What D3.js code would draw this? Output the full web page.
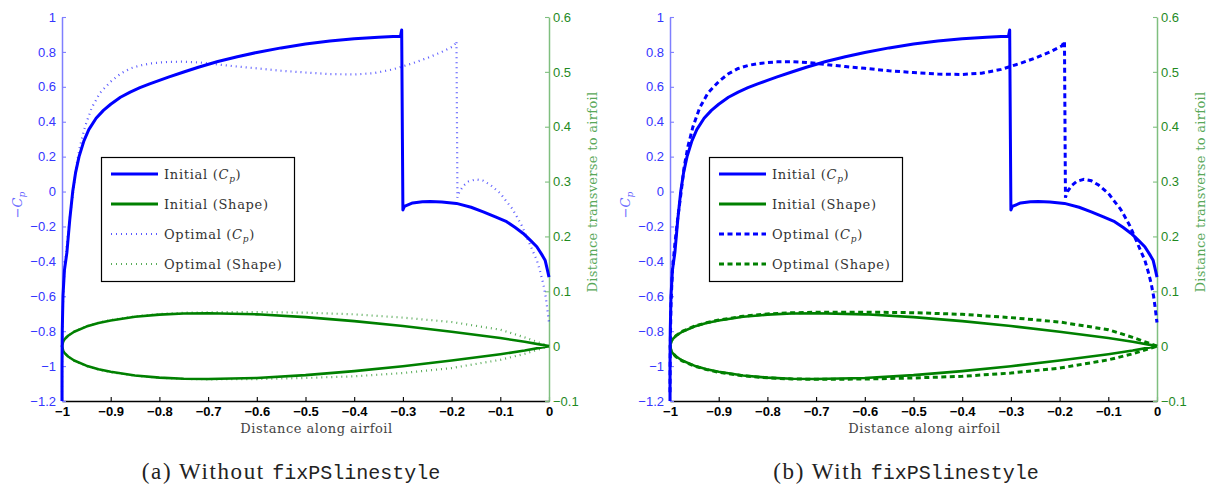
<!DOCTYPE html>
<html><head><meta charset="utf-8">
<script src="https://cdn.jsdelivr.net/npm/d3@7"></script>
<style>body{margin:0;background:#fff}svg{display:block}</style>
</head><body><svg id="c" width="1208" height="487"></svg>
<script>
// ---- data ----
const cpInitX = [-1, -1, -0.9995, -0.998, -0.995, -0.99, -0.984, -0.978, -0.972, -0.965, -0.955, -0.945, -0.93, -0.915, -0.90, -0.88, -0.86, -0.84, -0.82, -0.80, -0.78, -0.75, -0.72, -0.68, -0.64, -0.60, -0.55, -0.50, -0.45, -0.40, -0.35, -0.32, -0.305, -0.3025, -0.301, -0.300, -0.297, -0.28, -0.26, -0.244, -0.22, -0.19, -0.16, -0.135, -0.11, -0.087, -0.07, -0.053, -0.038, -0.025, -0.015, -0.008, -0.004, 0];
const cpInitY = [-1.2, -1.0, -0.8, -0.6, -0.45, -0.35, -0.16, 0.0, 0.11, 0.20, 0.29, 0.355, 0.42, 0.465, 0.50, 0.54, 0.57, 0.595, 0.617, 0.637, 0.657, 0.685, 0.712, 0.745, 0.772, 0.797, 0.823, 0.845, 0.862, 0.875, 0.884, 0.888, 0.889, 0.925, 0.30, -0.106, -0.085, -0.065, -0.058, -0.057, -0.06, -0.068, -0.09, -0.116, -0.145, -0.173, -0.205, -0.24, -0.28, -0.316, -0.36, -0.393, -0.44, -0.49];

const cpOptX = [-1, -0.9995, -0.998, -0.995, -0.99, -0.984, -0.977, -0.971, -0.963, -0.953, -0.939, -0.922, -0.90, -0.88, -0.86, -0.84, -0.82, -0.80, -0.78, -0.75, -0.72, -0.68, -0.64, -0.60, -0.55, -0.50, -0.45, -0.40, -0.36, -0.32, -0.28, -0.25, -0.22, -0.195, -0.190, -0.188, -0.184, -0.175, -0.165, -0.15, -0.135, -0.12, -0.10, -0.087, -0.075, -0.066, -0.055, -0.046, -0.035, -0.025, -0.018, -0.012, -0.007, -0.004, -0.001, 0];
const cpOptY = [-1.15, -0.9, -0.65, -0.45, -0.3, -0.15, 0.0, 0.14, 0.26, 0.37, 0.48, 0.565, 0.63, 0.675, 0.705, 0.722, 0.733, 0.739, 0.743, 0.744, 0.740, 0.728, 0.716, 0.706, 0.692, 0.682, 0.673, 0.671, 0.678, 0.700, 0.735, 0.765, 0.80, 0.835, 0.862, -0.035, 0.0, 0.035, 0.058, 0.070, 0.062, 0.037, -0.01, -0.058, -0.10, -0.144, -0.20, -0.259, -0.33, -0.393, -0.46, -0.526, -0.60, -0.66, -0.73, -0.75];

const shapeX = [-1, -0.9975, -0.995, -0.9875, -0.975, -0.95, -0.925, -0.9, -0.85, -0.8, -0.75, -0.7, -0.6, -0.5, -0.4, -0.3, -0.2, -0.1, -0.05, 0];
const shapeInitUpper = [0, 0.0087, 0.0122, 0.0189, 0.0262, 0.0356, 0.0420, 0.0468, 0.0535, 0.0574, 0.0594, 0.0600, 0.0580, 0.0529, 0.0456, 0.0366, 0.0262, 0.0147, 0.0081, 0];
const shapeInitLower = [0, -0.0087, -0.0122, -0.0189, -0.0262, -0.0356, -0.0420, -0.0468, -0.0535, -0.0574, -0.0594, -0.0600, -0.0580, -0.0529, -0.0456, -0.0366, -0.0262, -0.0147, -0.0081, 0];
const shapeOptUpper = [0, 0.009, 0.0125, 0.0193, 0.0268, 0.0362, 0.0428, 0.0476, 0.0545, 0.0588, 0.0608, 0.0618, 0.0620, 0.0610, 0.0580, 0.0520, 0.0440, 0.0300, 0.0160, 0];
const shapeOptLower = [0, -0.009, -0.0125, -0.0193, -0.0268, -0.0362, -0.0428, -0.0476, -0.0540, -0.0578, -0.0598, -0.0605, -0.0600, -0.0580, -0.0550, -0.0490, -0.0400, -0.0250, -0.0140, 0];

const xTicks = [-1, -0.9, -0.8, -0.7, -0.6, -0.5, -0.4, -0.3, -0.2, -0.1, 0];
const cpTicks = [1, 0.8, 0.6, 0.4, 0.2, 0, -0.2, -0.4, -0.6, -0.8, -1, -1.2];
const shapeTicks = [0.6, 0.5, 0.4, 0.3, 0.2, 0.1, 0, -0.1];
const legendNames = ["Initial", "Initial", "Optimal", "Optimal"];
const legendKinds = ["Cp", "Shape", "Cp", "Shape"];
const captionPrefix = ["(a) Without ", "(b) With "];
const captionCode = "fixPSlinestyle";
const xLabel = "Distance along airfoil";
const y2Label = "Distance transverse to airfoil";

// ---- drawing ----
const svg = d3.select("#c");
const BLUE = "#0000ff", GREEN = "#008000";
const fmt = v => (v < 0 ? "\u2212" : "") + String(+Math.abs(v).toFixed(1));
const serif = "'DejaVu Serif', serif";
const sans = "'Liberation Sans', Arial, sans-serif";

function panel(x0, style, capCenter, capPrefix) {
  const top = 17, bottom = 401, w = 487;
  const x = d3.scaleLinear().domain([-1, 0]).range([x0, x0 + w]);
  const yL = d3.scaleLinear().domain([-1.2, 1]).range([bottom, top]);
  const yR = d3.scaleLinear().domain([-0.1, 0.6]).range([bottom, top]);
  const g = svg.append("g");

  // axes
  const ax = g.append("g").attr("transform", `translate(0,${bottom})`)
    .call(d3.axisBottom(x).tickValues(xTicks).tickSizeInner(-4).tickSizeOuter(0).tickPadding(6).tickFormat(fmt));
  ax.select(".domain").attr("stroke", "#000").attr("stroke-width", 1.3);
  ax.selectAll(".tick line").attr("stroke", "#000").attr("stroke-width", 1.1);
  ax.selectAll("text").attr("fill", "#000").attr("font-family", sans).attr("font-size", 13).attr("font-weight", "bold");

  const al = g.append("g").attr("transform", `translate(${x0},0)`)
    .call(d3.axisLeft(yL).tickValues(cpTicks).tickSizeInner(-4).tickSizeOuter(0).tickPadding(6).tickFormat(fmt));
  al.select(".domain").attr("stroke", "#7f7fff").attr("stroke-width", 1.5);
  al.selectAll(".tick line").attr("stroke", "#7f7fff").attr("stroke-width", 1.1);
  al.selectAll("text").attr("fill", "#3535ff").attr("font-family", sans).attr("font-size", 13);

  const ar = g.append("g").attr("transform", `translate(${x0 + w},0)`)
    .call(d3.axisRight(yR).tickValues(shapeTicks).tickSizeInner(-4).tickSizeOuter(0).tickPadding(4).tickFormat(fmt));
  ar.select(".domain").attr("stroke", "#7fbf7f").attr("stroke-width", 1.5);
  ar.selectAll(".tick line").attr("stroke", "#7fbf7f").attr("stroke-width", 1.1);
  ar.selectAll("text").attr("fill", "#1f8a1f").attr("font-family", sans).attr("font-size", 13);

  // axis labels
  g.append("text").attr("x", x0 + w / 2 + 11).attr("y", 433).attr("text-anchor", "middle")
    .attr("font-family", serif).attr("font-size", 13).attr("letter-spacing", 0.5).attr("fill", "#444").text(xLabel);
  const cl = g.append("text").attr("transform", `translate(${x0 - 40},205) rotate(-90)`).attr("text-anchor", "middle")
    .attr("font-family", serif).attr("font-size", 13).attr("fill", "#6b6bff");
  cl.append("tspan").text("\u2212");
  cl.append("tspan").attr("font-style", "italic").text("C");
  cl.append("tspan").attr("font-style", "italic").attr("font-size", 9).attr("dy", 3).text("p");
  g.append("text").attr("transform", `translate(${x0 + w + 48},192) rotate(-90)`).attr("text-anchor", "middle")
    .attr("font-family", serif).attr("font-size", 13).attr("letter-spacing", 0.3).attr("fill", "#58a858").text(y2Label);

  // line styles
  const optStyle = style === "dotted"
    ? { w: 2.2, dash: "1,4", op: 0.65 }
    : { w: 3, dash: "5,3.5", op: 1 };

  const lineCp = d3.line().x(d => x(d[0])).y(d => yL(d[1]));
  const lineSh = d3.line().x(d => x(d[0])).y(d => yR(d[1]));

  const shapePts = (up, lo) => shapeX.map((v, i) => [v, up[i]]).reverse()
    .concat(shapeX.map((v, i) => [v, lo[i]]).slice(1));

  // optimal (drawn first, under)
  g.append("path").attr("d", lineSh(shapePts(shapeOptUpper, shapeOptLower))).attr("fill", "none")
    .attr("stroke", GREEN).attr("stroke-width", optStyle.w).attr("stroke-dasharray", optStyle.dash)
    .attr("stroke-opacity", optStyle.op);
  g.append("path").attr("d", lineCp(cpOptX.map((v, i) => [v, cpOptY[i]]))).attr("fill", "none")
    .attr("stroke", BLUE).attr("stroke-width", optStyle.w).attr("stroke-dasharray", optStyle.dash)
    .attr("stroke-opacity", optStyle.op);
  // initial
  g.append("path").attr("d", lineSh(shapePts(shapeInitUpper, shapeInitLower))).attr("fill", "none")
    .attr("stroke", GREEN).attr("stroke-width", 2.6).attr("stroke-linejoin", "round");
  g.append("path").attr("d", lineCp(cpInitX.map((v, i) => [v, cpInitY[i]]))).attr("fill", "none")
    .attr("stroke", BLUE).attr("stroke-width", 3).attr("stroke-linejoin", "round");

  // legend
  const lx = x0 + 39, ly = 157;
  const lg = g.append("g");
  lg.append("rect").attr("x", lx + 0.5).attr("y", ly + 0.5).attr("width", 193).attr("height", 124)
    .attr("fill", "#fff").attr("stroke", "#000").attr("stroke-width", 1.2);
  legendNames.forEach((nm, i) => {
    const yy = ly + 17 + i * 30;
    const isOpt = i >= 2;
    const col = legendKinds[i] === "Cp" ? BLUE : GREEN;
    lg.append("line").attr("x1", lx + 10).attr("x2", lx + 57).attr("y1", yy).attr("y2", yy)
      .attr("stroke", col).attr("stroke-width", isOpt ? optStyle.w : 3)
      .attr("stroke-dasharray", isOpt ? optStyle.dash : null)
      .attr("stroke-opacity", isOpt ? optStyle.op : 1);
    const t = lg.append("text").attr("x", lx + 63).attr("y", yy + 4.5)
      .attr("font-family", serif).attr("font-size", 13).attr("letter-spacing", 0.7).attr("fill", "#333");
    if (legendKinds[i] === "Cp") {
      t.append("tspan").text(nm + " (");
      t.append("tspan").attr("font-style", "italic").text("C");
      t.append("tspan").attr("font-style", "italic").attr("font-size", 9).attr("dy", 3).text("p");
      t.append("tspan").attr("dy", -3).text(")");
    } else {
      t.append("tspan").text(nm + " (Shape)");
    }
  });

  // caption
  const cap = svg.append("text").attr("x", capCenter).attr("y", 479).attr("text-anchor", "middle").attr("fill", "#222");
  cap.append("tspan").attr("font-family", "'Liberation Serif', serif").attr("font-size", 23).attr("letter-spacing", 1.6).text(capPrefix);
  cap.append("tspan").attr("font-family", "'Liberation Mono', monospace").attr("font-size", 20).attr("letter-spacing", 0).text(captionCode);
}

panel(62, "dotted", 291, captionPrefix[0]);
panel(670, "dashed", 906, captionPrefix[1]);
</script>
</body></html>
